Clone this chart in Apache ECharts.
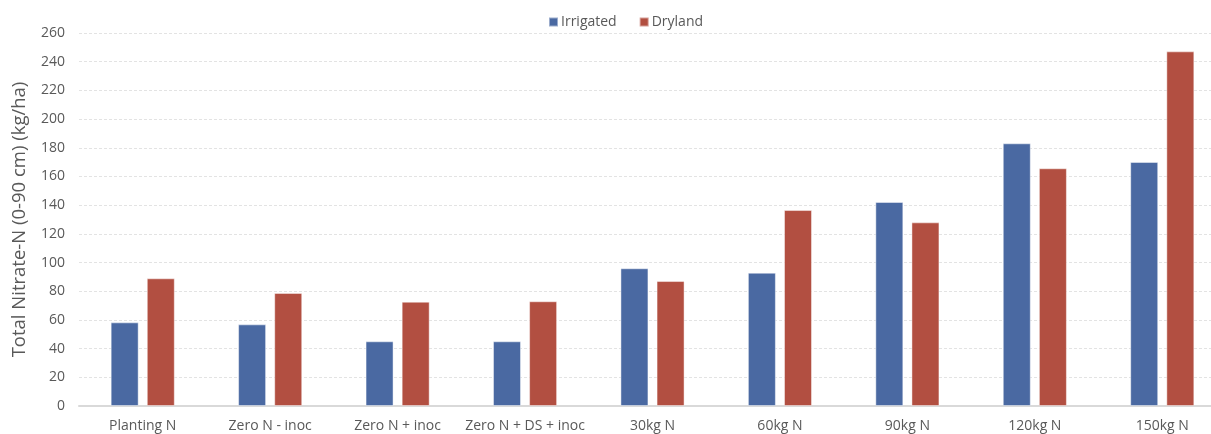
<!DOCTYPE html>
<html>
<head>
<meta charset="utf-8">
<script src="https://cdn.jsdelivr.net/npm/echarts@6/dist/echarts.min.js"></script>
<style>
  html, body { margin: 0; padding: 0; background: #fff; overflow: hidden; }
  /* the plot area runs a little past the right edge of the window */
  #chart { width: 1226px; height: 434px; }
</style>
</head>
<body>
<div id="chart"></div>
<script>
// Nitrogen treatments along the x axis
const categories = ['Planting N', 'Zero N - inoc', 'Zero N + inoc', 'Zero N + DS + inoc',
  '30kg N', '60kg N', '90kg N', '120kg N', '150kg N'];

// Total nitrate-N (0-90 cm), kg/ha
const irrigated = [58.3, 56.9, 45.1, 45.1, 96.0, 92.9, 142.2, 183.1, 170.1];
const dryland   = [89.0, 78.8, 72.7, 73.0, 87.1, 136.6, 128.0, 165.7, 247.2];

const seriesNames = ['Irrigated', 'Dryland'];
const yAxisTitle = 'Total Nitrate-N (0-90 cm) (kg/ha)';

const textColor = '#595959';
const fontFamily = '"Open Sans", "Noto Sans", sans-serif';

const chart = echarts.init(document.getElementById('chart'), null, { renderer: 'canvas' });

chart.setOption({
  animation: false,
  backgroundColor: '#ffffff',
  textStyle: { fontFamily: fontFamily, color: textColor },
  legend: {
    top: 10,
    left: 543,
    itemWidth: 9,
    itemHeight: 9,
    itemGap: 22,
    icon: 'rect',
    textStyle: { fontSize: 14, color: textColor, fontFamily: fontFamily, padding: [0, 0, 0, -2] },
    data: seriesNames
  },
  grid: { left: 79, right: 0, top: 33, bottom: 28, containLabel: false },
  xAxis: {
    type: 'category',
    data: categories,
    axisLine: { lineStyle: { color: '#d9d9d9', width: 2 } },
    axisTick: { show: false },
    axisLabel: { fontSize: 14, color: textColor, margin: 13, interval: 0, fontFamily: fontFamily }
  },
  yAxis: {
    type: 'value',
    min: 0,
    max: 260,
    interval: 20,
    name: yAxisTitle,
    nameLocation: 'middle',
    nameGap: 50,
    nameTextStyle: { fontSize: 18.5, color: textColor, fontFamily: fontFamily },
    axisLine: { show: false },
    axisTick: { show: false },
    axisLabel: { fontSize: 14, color: textColor, margin: 14, fontFamily: fontFamily },
    splitLine: { lineStyle: { color: '#e3e3e3', type: [3, 2], width: 1 } }
  },
  series: [
    {
      name: seriesNames[0],
      type: 'bar',
      data: irrigated,
      barWidth: 28,
      barGap: '29%',
      itemStyle: { color: '#4a69a2', borderColor: 'rgba(255,255,255,0.45)', borderWidth: 1 }
    },
    {
      name: seriesNames[1],
      type: 'bar',
      data: dryland,
      barWidth: 28,
      barGap: '29%',
      itemStyle: { color: '#b24f41', borderColor: 'rgba(255,255,255,0.45)', borderWidth: 1 }
    }
  ]
});
</script>
</body>
</html>
